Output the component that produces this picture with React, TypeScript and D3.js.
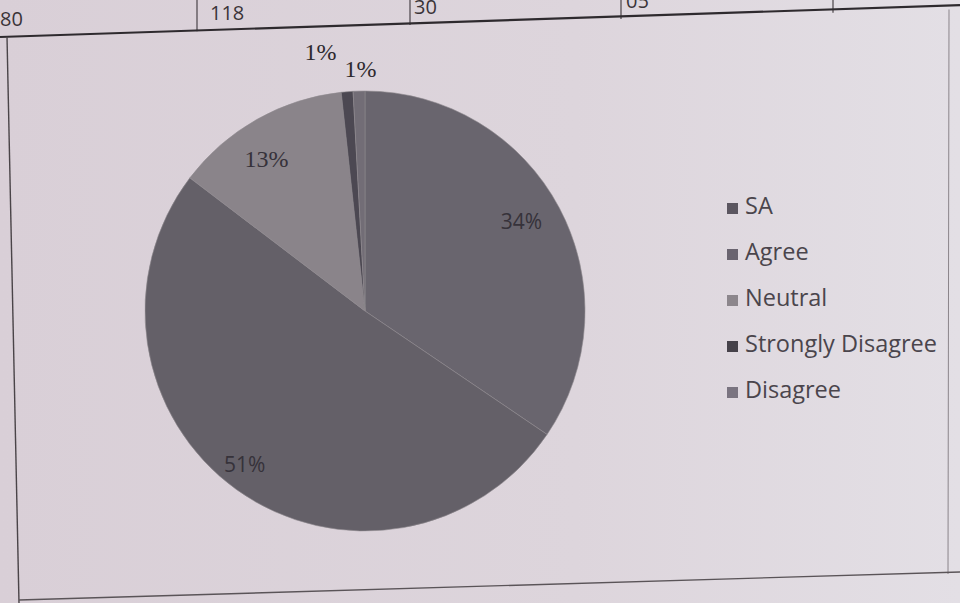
import * as d3 from "d3";

// survey responses (counts from the table above the chart)
const categories = ["SA", "Agree", "Neutral", "Strongly Disagree", "Disagree"];
const counts = [80, 118, 30, 2, 2];
const sliceColors = ["#69656e", "#646068", "#8a848a", "#4c4852", "#726d76"];
const legendColors = ["#5b5660", "#6a6470", "#8c868c", "#46424a", "#7a7480"];

// partial table row visible at the top of the photo
const tableValues = ["80", "118", "30", "05"];

const W = 960;
const H = 603;

export default function App() {
  const cx = 365;
  const cy = 311;
  const r = 220;

  const pie = d3
    .pie<number>()
    .sort(null)
    .value(d => d);
  const arcs = pie(counts);
  const arc = d3.arc<d3.PieArcDatum<number>>().innerRadius(0).outerRadius(r);
  const inLabel = d3.arc<d3.PieArcDatum<number>>().innerRadius(r * 0.79).outerRadius(r * 0.79);
  const outLabel = d3.arc<d3.PieArcDatum<number>>().innerRadius(r * 1.1).outerRadius(r * 1.1);

  const total = d3.sum(counts);
  const pct = (v: number) => `${Math.round((v / total) * 100)}%`;

  // label nudges, like excel's best-fit placement
  const nudges = [[3, -6], [-19, 14], [-13, 2], [-25, -15], [2, 2]];

  // top edge of the chart box is skewed in the photo
  const topY = (x: number) => 37 - x * 0.029;
  const colX = [197, 410, 621, 833];
  const textX = [0, 210, 414, 626];

  const legendY = d3.scalePoint<string>().domain(categories).range([208, 392]);

  return (
    <svg width={W} height={H} style={{ position: "absolute", left: 0, top: 0, display: "block" }}>
      <defs>
        <linearGradient id="paper" x1="0" x2="1" y1="0" y2="0">
          <stop offset="0" stopColor="#d9cfd7" />
          <stop offset="0.6" stopColor="#ddd5dc" />
          <stop offset="1" stopColor="#e3dfe5" />
        </linearGradient>
      </defs>
      <rect x={0} y={0} width={W} height={H} fill="url(#paper)" />

      {/* table fragment */}
      {tableValues.map((t, i) => (
        <text
          key={t + i}
          x={textX[i]}
          y={topY(textX[i]) - 11}
          fontFamily="Open Sans, sans-serif"
          fontSize={20}
          fill="#3a3438"
        >
          {t}
        </text>
      ))}
      {colX.map(x => (
        <line key={x} x1={x} x2={x} y1={0} y2={topY(x)} stroke="#4a4448" strokeWidth={1.2} />
      ))}

      {/* chart box */}
      <line x1={0} y1={topY(0)} x2={W} y2={topY(W) - 4} stroke="#2e2a2e" strokeWidth={2.2} />
      <line x1={7} y1={topY(7)} x2={19} y2={H} stroke="#4a4448" strokeWidth={1.4} />
      <line x1={949} y1={topY(949)} x2={948} y2={574} stroke="#8a848a" strokeWidth={1} />
      <line x1={19} y1={600} x2={W} y2={572} stroke="#5a5458" strokeWidth={1.4} />

      {/* pie */}
      <g transform={`translate(${cx},${cy})`}>
        {arcs.map((a, i) => (
          <path key={categories[i]} d={arc(a) || ""} fill={sliceColors[i]} stroke="#8f898e" strokeWidth={0.6} />
        ))}
        {arcs.map((a, i) => {
          const share = a.value / total;
          const small = share < 0.05;
          const [lx, ly] = small ? outLabel.centroid(a) : inLabel.centroid(a);
          const big = share > 0.3;
          return (
            <text
              key={"l" + i}
              x={lx + nudges[i][0]}
              y={ly + nudges[i][1]}
              textAnchor="middle"
              dominantBaseline="middle"
              fontFamily={big ? "Open Sans, sans-serif" : "Liberation Serif, serif"}
              fontSize={big ? 21 : 24}
              fill={small ? "#2e2a2e" : "#36323a"}
            >
              {pct(a.value)}
            </text>
          );
        })}
      </g>

      {/* legend */}
      {categories.map((c, i) => (
        <g key={c} transform={`translate(727,${legendY(c)})`}>
          <rect x={0} y={-5} width={11} height={11} fill={legendColors[i]} />
          <text
            x={18}
            y={0}
            dominantBaseline="middle"
            fontFamily="Open Sans, sans-serif"
            fontSize={23.5}
            fill="#4a454c"
          >
            {c}
          </text>
        </g>
      ))}
    </svg>
  );
}
